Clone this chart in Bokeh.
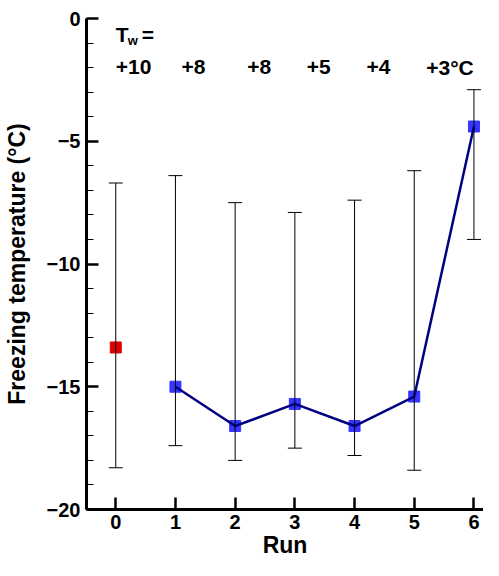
import numpy as np
from bokeh.plotting import figure
from bokeh.models import ColumnDataSource, FixedTicker, Range1d, Whisker, TeeHead, Label
from bokeh.embed import file_html
from bokeh.resources import INLINE

# freezing temperature per run, with the spread shown as error bars
runs = [0, 1, 2, 3, 4, 5, 6]
freeze_temp = [-13.4, -15.0, -16.6, -15.7, -16.6, -15.4, -4.4]
err_low = [-18.3, -17.4, -18.0, -17.5, -17.8, -18.4, -9.0]
err_high = [-6.7, -6.4, -7.5, -7.9, -7.4, -6.2, -2.9]
tw_labels = ["+10", "+8", "+8", "+5", "+4", "+3\u00b0C"]

FONT = "Liberation Sans"

p = figure(width=483, height=560, output_backend="svg", toolbar_location=None,
           x_range=Range1d(-0.49, 6.16), y_range=Range1d(-20, 0),
           min_border_left=86, min_border_right=0, min_border_top=18, min_border_bottom=40)
p.outline_line_color = None
p.grid.grid_line_color = None
p.background_fill_color = "white"

for ax in (p.xaxis, p.yaxis):
    ax.axis_line_width = 3
    ax.axis_line_color = "black"
    ax.major_tick_in = 12
    ax.major_tick_out = 0
    ax.major_tick_line_width = 2.5
    ax.major_label_text_font = FONT
    ax.major_label_text_font_style = "bold"
    ax.major_label_text_font_size = "20px"
    ax.major_label_text_color = "black"
    ax.axis_label_text_font = FONT
    ax.axis_label_text_font_style = "bold"
    ax.axis_label_text_font_size = "23px"
    ax.axis_label_text_color = "black"

p.xaxis.ticker = FixedTicker(ticks=runs)
p.xaxis.minor_tick_line_color = None
p.xaxis.major_label_standoff = 5
p.xaxis.axis_label = "Run"
p.xaxis.axis_label_standoff = 0

p.yaxis.ticker = FixedTicker(ticks=[-20, -15, -10, -5, 0], minor_ticks=list(range(-20, 1)))
p.yaxis.minor_tick_in = 7
p.yaxis.minor_tick_out = 0
p.yaxis.minor_tick_line_width = 1.2
p.yaxis.minor_tick_line_color = "black"
p.yaxis.major_label_standoff = 6
p.yaxis.axis_label = "Freezing temperature (\u00b0C)"
p.yaxis.axis_label_standoff = 14

src_first = ColumnDataSource(data=dict(x=runs[:1], y=freeze_temp[:1]))
src_rest = ColumnDataSource(data=dict(x=runs[1:], y=freeze_temp[1:]))
src_err = ColumnDataSource(data=dict(x=runs, lo=err_low, hi=err_high))

p.scatter('x', 'y', source=src_first, marker='square', size=11, fill_color='#dd0000', line_color='#dd0000')
p.scatter('x', 'y', source=src_rest, marker='square', size=11, fill_color='#3535ff', line_color='#3535ff')
p.line('x', 'y', source=src_rest, line_color='#000080', line_width=2.5)

whisk = Whisker(source=src_err, base='x', lower='lo', upper='hi', dimension='height',
                line_color='black', line_width=1, level='overlay',
                upper_head=TeeHead(size=14, line_color='black', line_width=1),
                lower_head=TeeHead(size=14, line_color='black', line_width=1))
p.add_layout(whisk)

# T_w = header and the water temperature per run
txt = dict(text_font=FONT, text_font_style="bold", text_color="black", text_baseline="middle")
p.add_layout(Label(x=0, y=-0.64, text="T", text_font_size="21px", **txt))
p.add_layout(Label(x=0, y=-0.64, text="w", x_offset=12, y_offset=-6, text_font_size="13px", **txt))
p.add_layout(Label(x=0, y=-0.64, text="=", x_offset=26, text_font_size="21px", **txt))
offsets = [0, 6, 12, 12, 12, 12]
for r, lab, off in zip(runs, tw_labels, offsets):
    p.add_layout(Label(x=r, y=-1.99, text=lab, x_offset=off, text_font_size="21px", **txt))

open("out.html", "w").write(file_html(p, INLINE))
